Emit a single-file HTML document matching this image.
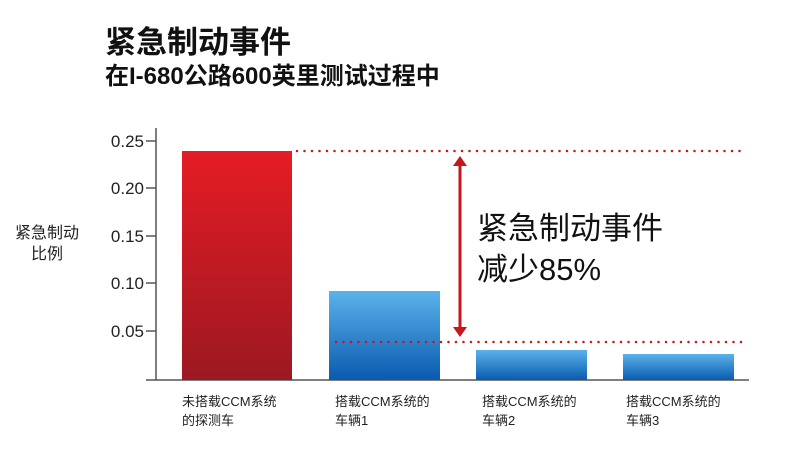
<!DOCTYPE html>
<html><head><meta charset="utf-8"><style>
body{margin:0;background:#fff;}
svg text{font-family:"Liberation Sans","Noto Sans CJK SC",sans-serif;}
</style></head><body>
<svg width="800" height="461" viewBox="0 0 800 461" xmlns="http://www.w3.org/2000/svg">
<defs>
<linearGradient id="r" x1="0" y1="0" x2="0" y2="1"><stop offset="0" stop-color="#e51c24"/><stop offset="1" stop-color="#9c1822"/></linearGradient>
<linearGradient id="b" x1="0" y1="0" x2="0" y2="1"><stop offset="0" stop-color="#5bb2ea"/><stop offset="1" stop-color="#0a5bb0"/></linearGradient>
</defs>
<text x="105" y="53" font-size="31" font-weight="bold" fill="#111">紧急制动事件</text>
<text x="105" y="84" font-size="24" font-weight="bold" fill="#111">在I-680公路600英里测试过程中</text>
<text x="47" y="238" font-size="16" fill="#222" text-anchor="middle">紧急制动</text>
<text x="47" y="259" font-size="16" fill="#222" text-anchor="middle">比例</text>
<g stroke="#555" stroke-width="1.5">
<line x1="156" y1="128" x2="156" y2="380"/>
<line x1="146" y1="380" x2="749" y2="380"/>
<line x1="146" y1="141" x2="156" y2="141"/>
<line x1="146" y1="188" x2="156" y2="188"/>
<line x1="146" y1="236" x2="156" y2="236"/>
<line x1="146" y1="283" x2="156" y2="283"/>
<line x1="146" y1="331" x2="156" y2="331"/>
</g>
<g font-size="17" fill="#222" text-anchor="end">
<text x="144" y="147">0.25</text><text x="144" y="194">0.20</text><text x="144" y="242">0.15</text><text x="144" y="289">0.10</text><text x="144" y="337">0.05</text>
</g>
<rect x="182" y="151" width="110" height="229" fill="url(#r)"/>
<rect x="329" y="291" width="111" height="89" fill="url(#b)"/>
<rect x="476" y="350" width="111" height="30" fill="url(#b)"/>
<rect x="623" y="354" width="111" height="26" fill="url(#b)"/>
<g stroke="#c8161e" stroke-width="2.5" stroke-dasharray="0 7.5" stroke-linecap="round">
<line x1="297" y1="151" x2="746" y2="151"/>
<line x1="336" y1="342" x2="746" y2="342"/>
</g>
<line x1="460" y1="164" x2="460" y2="329" stroke="#c8161e" stroke-width="3"/>
<polygon points="460,156 453,166 467,166" fill="#c8161e"/>
<polygon points="460,337 453,327 467,327" fill="#c8161e"/>
<text x="477" y="239" font-size="31" fill="#111">紧急制动事件</text>
<text x="477" y="280" font-size="31" fill="#111">减少85%</text>
<g font-size="13" fill="#222">
<text x="182" y="406">未搭载CCM系统</text><text x="182" y="425">的探测车</text>
<text x="335" y="406">搭载CCM系统的</text><text x="335" y="425">车辆1</text>
<text x="482" y="406">搭载CCM系统的</text><text x="482" y="425">车辆2</text>
<text x="626" y="406">搭载CCM系统的</text><text x="626" y="425">车辆3</text>
</g>
</svg>
</body></html>
